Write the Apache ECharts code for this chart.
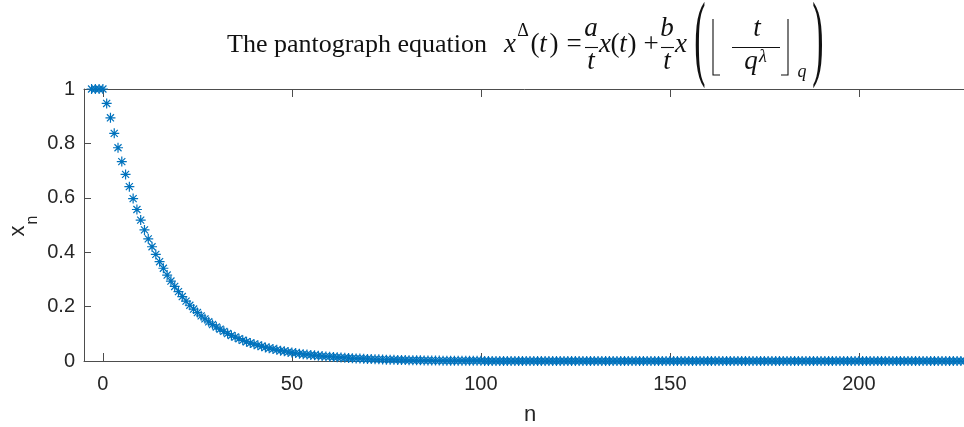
<!DOCTYPE html>
<html>
<head>
<meta charset="utf-8">
<script src="https://cdn.jsdelivr.net/npm/echarts@6/dist/echarts.min.js"></script>
<style>html,body{margin:0;padding:0;background:#fff}#c{width:964px;height:427px}</style>
</head>
<body>
<div id="c"></div>
<script>
// ---- data ----
const startN = -3;            // first index n of the series
const xn = [
  1, 1, 1, 1,
  0.947, 0.894, 0.837, 0.784, 0.733, 0.686, 0.641, 0.597, 0.557, 0.518,
  0.482, 0.449, 0.420, 0.392, 0.365, 0.341, 0.316, 0.294, 0.274, 0.255,
  0.237, 0.220, 0.205, 0.191, 0.178, 0.166, 0.155, 0.144, 0.134, 0.125,
  0.117, 0.109, 0.101, 0.094, 0.088, 0.082, 0.076, 0.071, 0.066, 0.062,
  0.058, 0.054, 0.050, 0.047, 0.044, 0.041, 0.038, 0.036, 0.033, 0.031,
  0.029, 0.027, 0.025, 0.024, 0.022, 0.021, 0.019, 0.018, 0.017, 0.016,
  0.015, 0.014, 0.013, 0.012, 0.011, 0.010, 0.0095, 0.009, 0.008, 0.0075,
  0.007, 0.0065, 0.006, 0.0056, 0.005, 0.0048, 0.0045, 0.004, 0.0038, 0.0035,
  0.003, 0.003, 0.0025, 0.0025, 0.002, 0.002, 0.002, 0.0015, 0.0015, 0.001,
  0.001, 0.001, 0.001, 0.001, 0.001, 0.0008, 0.0008, 0.0008, 0.0008, 0.0008,
  0, 0, 0, 0, 0, 0, 0, 0, 0, 0,
  0, 0, 0, 0, 0, 0, 0, 0, 0, 0,
  0, 0, 0, 0, 0, 0, 0, 0, 0, 0,
  0, 0, 0, 0, 0, 0, 0, 0, 0, 0,
  0, 0, 0, 0, 0, 0, 0, 0, 0, 0,
  0, 0, 0, 0, 0, 0, 0, 0, 0, 0,
  0, 0, 0, 0, 0, 0, 0, 0, 0, 0,
  0, 0, 0, 0, 0, 0, 0, 0, 0, 0,
  0, 0, 0, 0, 0, 0, 0, 0, 0, 0,
  0, 0, 0, 0, 0, 0, 0, 0, 0, 0,
  0, 0, 0, 0, 0, 0, 0, 0, 0, 0,
  0, 0, 0, 0, 0, 0, 0, 0, 0, 0,
  0, 0, 0, 0, 0, 0, 0, 0, 0, 0
];
const xTickValues = [0, 50, 100, 150, 200];
const xRange = [-5, 231];
const yRange = [0, 1];
const xName = 'n';

// ---- build ----
const points = xn.map((v, i) => [startN + i, v]);

const serif = 'Liberation Serif';
const sans = 'Liberation Sans';
const ink = '#111';
function T(text, cx, base, size, italic) {
  return {
    type: 'text', x: cx, y: base - 0.34 * size, silent: true,
    style: { text: text, font: (italic ? 'italic ' : '') + size + 'px "' + serif + '"',
             fill: ink, align: 'center', verticalAlign: 'middle' }
  };
}
function L(x1, y1, x2, y2, w) {
  return { type: 'line', silent: true, shape: { x1: x1, y1: y1, x2: x2, y2: y2 },
           style: { stroke: ink, lineWidth: w || 1.1 } };
}
function P(pts) {
  return { type: 'polyline', silent: true, shape: { points: pts },
           style: { stroke: ink, lineWidth: 1.1, fill: null } };
}
function BigParen(ch, cx) {
  return {
    type: 'text', x: cx, y: 43.5, scaleX: 1.3, scaleY: 3.65, silent: true,
    style: { text: ch, font: '26px "' + serif + '"', fill: ink, align: 'center', verticalAlign: 'middle' }
  };
}
const B = 54, NUM = 38, DEN = 71, BAR = 47.5, M = 27, S = 18;
const title = [
  { type: 'text', x: 227, y: B - 0.34 * 26, silent: true,
    style: { text: 'The pantograph equation', font: '26px "' + serif + '"', fill: ink,
             align: 'left', verticalAlign: 'middle' } },
  T('x', 510, B, M, true),
  T('Δ', 523, 37, S, false),
  T('(', 535, B, M), T('t', 543, B, M, true), T(')', 554, B, M),
  T('=', 574, B, M),
  T('a', 591, NUM, M, true), L(585, BAR, 598, BAR), T('t', 591, DEN, M, true),
  T('x', 605, B, M, true),
  T('(', 615, B, M), T('t', 623, B, M, true), T(')', 632, B, M),
  T('+', 651, B, M),
  T('b', 667, NUM, M, true), L(661, BAR, 674, BAR), T('t', 667, DEN, M, true),
  T('x', 681, B, M, true),
  BigParen('(', 700),
  P([[720, 75], [713, 75], [713, 19]]),
  T('t', 757, NUM, M, true), L(732, BAR, 780, BAR),
  T('q', 751, DEN, M, true), T('λ', 763, 63, S, true),
  P([[781, 75], [788, 75], [788, 19]]),
  T('q', 802, 78, S, true),
  BigParen(')', 818)
];
const yLabel = [
  { type: 'text', x: 18, y: 231, rotation: Math.PI / 2, silent: true,
    style: { text: 'x', font: '22px "' + sans + '"', fill: '#262626', align: 'center', verticalAlign: 'middle' } },
  { type: 'text', x: 33, y: 220, rotation: Math.PI / 2, silent: true,
    style: { text: 'n', font: '16px "' + sans + '"', fill: '#262626', align: 'center', verticalAlign: 'middle' } }
];

const axisColor = '#4d4d4d';
const labelStyle = { color: '#262626', fontSize: 20, fontFamily: sans };
const chart = echarts.init(document.getElementById('c'), null, { renderer: 'canvas' });
chart.setOption({
  animation: false,
  backgroundColor: '#fff',
  grid: { left: 84, top: 89, width: 892, height: 272, containLabel: false, outerBoundsMode: 'none' },
  xAxis: [{
    type: 'value', min: xRange[0], max: xRange[1], position: 'bottom',
    name: xName, nameLocation: 'middle', nameGap: 43,
    nameTextStyle: { color: '#262626', fontSize: 22, fontFamily: sans },
    axisLine: { show: true, onZero: false, lineStyle: { color: axisColor, width: 1 } },
    axisTick: { show: true, inside: true, length: 8, customValues: xTickValues, lineStyle: { color: axisColor } },
    axisLabel: Object.assign({ show: true, margin: 13, customValues: xTickValues }, labelStyle),
    splitLine: { show: false }
  }, {
    type: 'value', min: xRange[0], max: xRange[1], position: 'top',
    axisLine: { show: true, onZero: false, lineStyle: { color: axisColor, width: 1 } },
    axisTick: { show: true, inside: true, length: 8, customValues: xTickValues, lineStyle: { color: axisColor } },
    axisLabel: { show: false },
    splitLine: { show: false }
  }],
  yAxis: [{
    type: 'value', min: yRange[0], max: yRange[1], interval: 0.2,
    axisLine: { show: true, onZero: false, lineStyle: { color: axisColor, width: 1 } },
    axisTick: { show: true, inside: true, length: 7, lineStyle: { color: axisColor } },
    axisLabel: Object.assign({ show: true, margin: 9 }, labelStyle),
    splitLine: { show: false }
  }],
  series: [{
    type: 'scatter', xAxisIndex: 0, yAxisIndex: 0, data: points, clip: false,
    symbol: 'path://M0,-10L0,10M-10,0L10,0M-7.07,-7.07L7.07,7.07M-7.07,7.07L7.07,-7.07',
    symbolSize: 10,
    itemStyle: { color: 'rgba(0,0,0,0)', borderColor: '#0072BD', borderWidth: 1.2, opacity: 1 },
    emphasis: { disabled: true }
  }],
  graphic: title.concat(yLabel)
});
</script>
</body>
</html>
